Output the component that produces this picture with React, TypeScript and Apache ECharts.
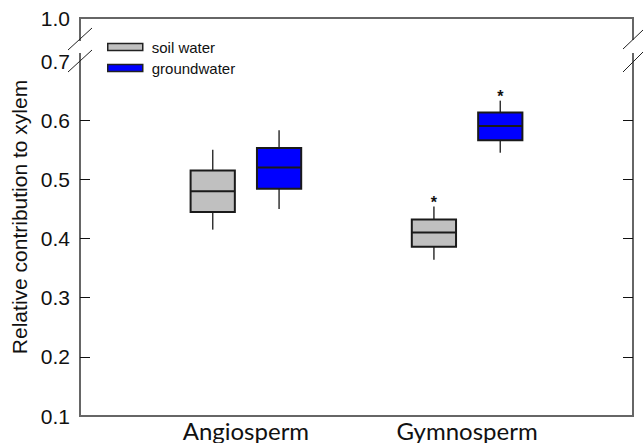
import React, { useEffect, useRef } from "react";
import * as echarts from "echarts";

// ---- data ----
const categories = ["Angiosperm", "Gymnosperm"];
const seriesNames = ["soil water", "groundwater"];
// [min, Q1, median, Q3, max] per category
const soilWater = [
  [0.415, 0.445, 0.48, 0.515, 0.55],
  [0.364, 0.386, 0.41, 0.432, 0.454],
];
const groundwater = [
  [0.45, 0.484, 0.52, 0.553, 0.583],
  [0.545, 0.566, 0.59, 0.613, 0.633],
];
const soilSig = ["", "*"];
const groundSig = ["", "*"];
const yTickValues = [0.1, 0.2, 0.3, 0.4, 0.5, 0.6, 0.7];
const yTopLabel = "1.0";

// ---- layout / style ----
const W = 643;
const H = 443;
const AXIS_TOP = 0.7727; // position standing for 1.0 after the break
const colors = ["#c0c0c0", "#0000ff"];
const frameColor = "#666666";

// category slots: empty, cat0, empty, cat1, empty
const slotNames: string[] = ["", categories[0], "", categories[1], ""];
const slotIndex = categories.map((_, i) => 1 + i * 2);

function makeRender(offsetFrac: number, color: string, sig: string[]) {
  const boxFrac = 0.4;
  return (params: any, api: any) => {
    const xi = api.value(0);
    const band = api.size([1, 0])[0];
    const cx = api.coord([xi, 0.1])[0] + offsetFrac * band;
    const half = (boxFrac * band) / 2;
    const y = (v: number) => api.coord([xi, v])[1];
    const yMin = y(api.value(1));
    const yQ1 = y(api.value(2));
    const yMed = y(api.value(3));
    const yQ3 = y(api.value(4));
    const yMax = y(api.value(5));
    const children: any[] = [
      { type: "line", shape: { x1: cx, y1: yMax, x2: cx, y2: yQ3 }, style: { stroke: "#333", lineWidth: 1.5 } },
      { type: "line", shape: { x1: cx, y1: yQ1, x2: cx, y2: yMin }, style: { stroke: "#333", lineWidth: 1.5 } },
      {
        type: "rect",
        shape: { x: cx - half, y: yQ3, width: half * 2, height: yQ1 - yQ3 },
        style: { fill: color, stroke: "#1a1a1a", lineWidth: 2 },
      },
      { type: "line", shape: { x1: cx - half, y1: yMed, x2: cx + half, y2: yMed }, style: { stroke: "#1a1a1a", lineWidth: 2 } },
    ];
    const s = sig[params.dataIndex];
    if (s) {
      children.push({
        type: "text",
        x: cx,
        y: yMax - 4,
        style: {
          text: s,
          fill: "#111",
          font: "bold 16px 'Liberation Sans', Arial, sans-serif",
          align: "center",
          verticalAlign: "middle",
        },
      });
    }
    return { type: "group", children };
  };
}

export default function App() {
  const ref = useRef<HTMLDivElement>(null);
  useEffect(() => {
    if (!ref.current) return;
    const chart = echarts.init(ref.current, undefined, { renderer: "svg" });
    const grid = { left: 80, right: 10, top: 18, bottom: 27 };
    const soilData = soilWater.map((v, i) => [slotIndex[i], ...v]);
    const groundData = groundwater.map((v, i) => [slotIndex[i], ...v]);
    const labelVals = [...yTickValues, AXIS_TOP];
    const tickVals = yTickValues.slice(1, yTickValues.length - 1);
    const leftX = grid.left;
    const rightX = W - grid.right;

    chart.setOption({
      animation: false,
      backgroundColor: "#ffffff",
      grid: { ...grid, show: true, borderColor: frameColor, borderWidth: 2, backgroundColor: "transparent" },
      legend: {
        left: 107,
        top: 39.5,
        padding: 0,
        orient: "vertical",
        itemWidth: 35,
        itemHeight: 7,
        itemGap: 6,
        textStyle: { fontFamily: "'Liberation Sans', Arial, sans-serif", fontSize: 15, color: "#111", padding: [0, 0, 0, 4] },
        data: seriesNames.map((n, i) => ({
          name: n,
          icon: "rect",
          itemStyle: { color: colors[i], borderColor: "#222", borderWidth: 1.5 },
        })),
      },
      xAxis: {
        type: "category",
        data: slotNames,
        axisTick: { show: false },
        axisLine: { show: true, lineStyle: { color: frameColor, width: 2 } },
        axisLabel: {
          interval: 0,
          margin: 2,
          fontFamily: "Lato, 'Open Sans', sans-serif",
          fontSize: 24,
          color: "#111",
        },
        splitLine: { show: false },
      },
      yAxis: [
        {
          type: "value",
          min: 0.1,
          max: AXIS_TOP,
          name: "Relative contribution to xylem",
          nameLocation: "middle",
          nameGap: 50,
          nameTextStyle: { fontFamily: "'Liberation Sans', Arial, sans-serif", fontSize: 21, color: "#111" },
          axisLine: { show: true, lineStyle: { color: frameColor, width: 2 } },
          axisTick: { show: true, inside: true, length: 10, customValues: tickVals, lineStyle: { color: "#111", width: 1 } },
          axisLabel: {
            customValues: labelVals,
            margin: 10,
            fontFamily: "'Liberation Sans', Arial, sans-serif",
            fontSize: 21,
            color: "#111",
            formatter: (v: number) => (v > 0.75 ? yTopLabel : v.toFixed(1)),
          },
          splitLine: { show: false },
        },
        {
          type: "value",
          position: "right",
          min: 0.1,
          max: AXIS_TOP,
          axisLine: { show: true, lineStyle: { color: frameColor, width: 2 } },
          axisTick: { show: true, inside: true, length: 10, customValues: tickVals, lineStyle: { color: "#111", width: 1 } },
          axisLabel: { show: false },
          splitLine: { show: false },
        },
      ],
      series: [
        {
          name: seriesNames[0],
          type: "custom",
          itemStyle: { color: colors[0] },
          renderItem: makeRender(-0.3, colors[0], soilSig),
          encode: { x: 0, y: [1, 2, 3, 4, 5] },
          data: soilData,
          z: 5,
        },
        {
          name: seriesNames[1],
          type: "custom",
          itemStyle: { color: colors[1] },
          renderItem: makeRender(0.3, colors[1], groundSig),
          encode: { x: 0, y: [1, 2, 3, 4, 5] },
          data: groundData,
          z: 5,
        },
      ],
      graphic: [
        { type: "rect", z: 100, shape: { x: leftX - 3, y: 41, width: 6, height: 12 }, style: { fill: "#fff" } },
        { type: "rect", z: 100, shape: { x: rightX - 3, y: 40, width: 6, height: 13 }, style: { fill: "#fff" } },
        { type: "line", z: 101, shape: { x1: 68, y1: 50, x2: 92, y2: 28 }, style: { stroke: "#222", lineWidth: 1 } },
        { type: "line", z: 101, shape: { x1: 68, y1: 72, x2: 92, y2: 50 }, style: { stroke: "#222", lineWidth: 1 } },
        { type: "line", z: 101, shape: { x1: 623, y1: 49, x2: 643, y2: 30 }, style: { stroke: "#222", lineWidth: 1 } },
        { type: "line", z: 101, shape: { x1: 623, y1: 72, x2: 643, y2: 52 }, style: { stroke: "#222", lineWidth: 1 } },
      ],
    });
    return () => chart.dispose();
  }, []);
  return <div ref={ref} style={{ position: "fixed", left: 0, top: 0, width: W, height: H }} />;
}
